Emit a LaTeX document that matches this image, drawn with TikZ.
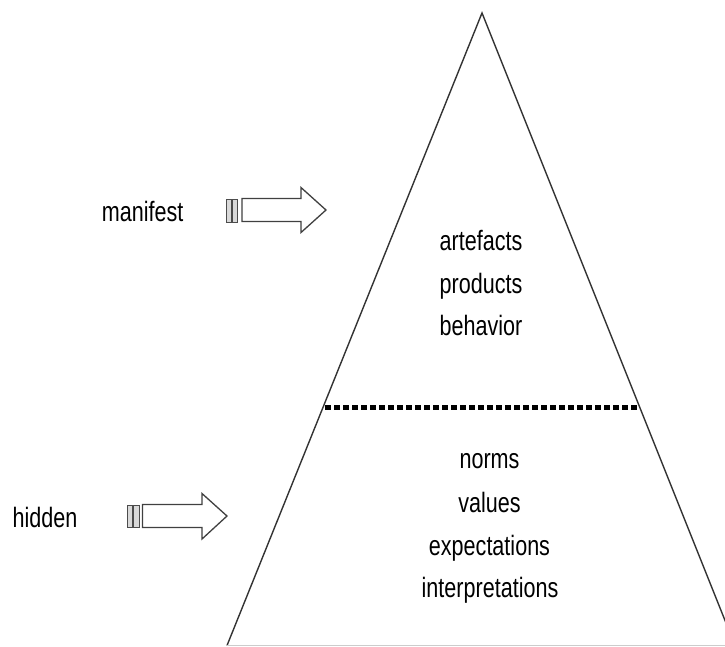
\documentclass[tikz,border=0pt]{standalone}
\usepackage{fontspec}
\newfontfamily\condfont[FakeStretch=0.77]{Liberation Sans}
\begin{document}
\begin{tikzpicture}[x=1pt,y=-1pt,
  lbl/.style={font=\condfont\fontsize{28}{30}\selectfont, inner sep=0pt, text=black},
  edge/.style={draw=black!80, line width=1.4pt},
  fatarrow/.style={draw=black!75, line width=1.3pt, fill=white, line join=miter},
  tailbar/.style={draw=black!70, line width=1pt, fill=black!15}]
\useasboundingbox (0,0) rectangle (725,646);
\clip (0,0) rectangle (725,646);
% triangle
\coordinate (apex) at (482,13);
\coordinate (bl) at (227,645.5);
\coordinate (br) at (735,645.5);
\draw[edge, line join=miter] (bl) -- (apex) -- (br);
\draw[draw=black!20, line width=1pt] (bl) -- (br);
% divider
\coordinate (dl) at (325,407);
\coordinate (dr) at (637,407);
\draw[line width=5pt, dash pattern=on 6pt off 3pt] (dl) -- (dr);
% manifest arrow
\draw[tailbar] (226.5,199) rectangle (231,222);
\draw[tailbar] (232.5,199) rectangle (237.5,222);
\draw[fatarrow] (242,198.5) -- (301,198.5) -- (301,187.5) -- (326,210) -- (301,232.5) -- (301,221.5) -- (242,221.5) -- cycle;
% hidden arrow
\draw[tailbar] (127,505) rectangle (132,527);
\draw[tailbar] (133.5,505) rectangle (139.5,527);
\draw[fatarrow] (142.5,504.5) -- (202,504.5) -- (202,493.5) -- (227,516) -- (202,539) -- (202,527.5) -- (142.5,527.5) -- cycle;
% labels
\node[lbl, anchor=base east] (manifest) at (183.5,221) {manifest};
\node[lbl, anchor=base west] (hidden) at (12.5,527) {hidden};
\node[lbl, anchor=base] (artefacts) at (481,250) {artefacts};
\node[lbl, anchor=base] (products) at (481,293) {products};
\node[lbl, anchor=base] (behavior) at (481,335) {behavior};
\node[lbl, anchor=base] (norms) at (489.5,468) {norms};
\node[lbl, anchor=base] (values) at (489.5,512) {values};
\node[lbl, anchor=base] (expectations) at (489.5,555) {expectations};
\node[lbl, anchor=base] (interpretations) at (490,597) {interpretations};
\end{tikzpicture}
\end{document}
